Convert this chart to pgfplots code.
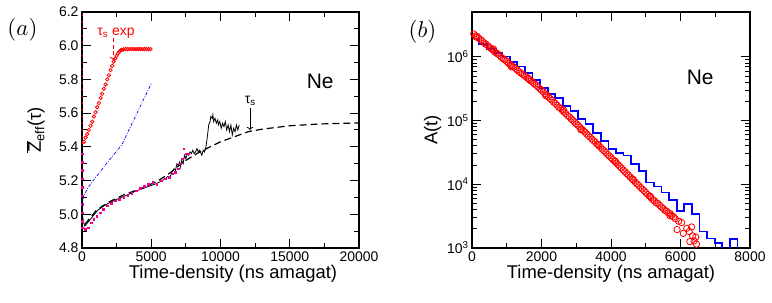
\documentclass[border=0pt]{standalone}
\usepackage{fontspec}
\setmainfont{Liberation Sans}
\usepackage{pgfplots}
\pgfplotsset{compat=1.18}
\usetikzlibrary{arrows.meta}
\begin{document}
\begin{tikzpicture}
\pgfplotsset{
  every axis/.append style={
    scale only axis, height=236bp,
    tick align=inside, major tick length=9bp, minor tick length=5bp,
    axis line style={line width=1.1bp},
    every tick/.style={line width=1bp, black},
    tick label style={font=\fontsize{14}{16}\selectfont},
    label style={font=\fontsize{18.5}{20}\selectfont},
    scaled ticks=false,
    /pgf/number format/assume math mode=true,
    /pgf/number format/1000 sep={},
    clip mode=individual,
  }
}
% ---------------- panel (a)
\begin{axis}[at={(0,0)}, anchor=south west, width=277bp,
  xmin=0, xmax=20000, ymin=4.8, ymax=6.2,
  xtick={0,5000,10000,15000,20000}, minor x tick num=1,
  xticklabels={0,5000,10000,15000,20000},
  ytick={4.8,5,5.2,5.4,5.6,5.8,6,6.2}, minor y tick num=1,
  yticklabels={4.8,5.0,5.2,5.4,5.6,5.8,6.0,6.2},
  xlabel={Time-density (ns amagat)},
  ylabel={$\overline{\hbox{Z}}$\textsubscript{eff}(τ)},
  xlabel style={at={(axis description cs:0.545,-0.13)}, anchor=base},
  ylabel style={at={(axis description cs:-0.168,0.5)}, anchor=center},
]
% dashed fit
\addplot[black, line width=1.2bp, dash pattern=on 7bp off 4bp] coordinates {
(200,4.94)(400,4.96)(700,4.99)(1000,5.02)(1500,5.05)(2000,5.075)(2500,5.095)
(3000,5.115)(3500,5.13)(4000,5.145)(4500,5.16)(5000,5.18)(5500,5.20)(6000,5.225)
(6500,5.255)(7000,5.29)(7500,5.32)(8000,5.345)(8500,5.37)(9000,5.39)(9500,5.41)
(10000,5.43)(10500,5.445)(11000,5.46)(11500,5.475)(12000,5.49)(13000,5.505)
(14000,5.515)(15000,5.525)(16000,5.53)(17000,5.535)(18000,5.538)(19000,5.54)(20000,5.542)};
% black noisy
\addplot[black, line width=0.8bp] coordinates {
(0,5.02)(60,4.98)(120,4.95)(200,4.93)(300,4.94)(450,4.955)(650,4.975)(900,5.00)
(1150,5.025)(1500,5.045)(1900,5.065)(2400,5.085)(2850,5.10)(3300,5.115)(3800,5.135)
(4300,5.15)(4800,5.165)(5300,5.18)(5700,5.195)(6000,5.21)(6200,5.225)(6350,5.22)
(6500,5.25)(6650,5.27)(6750,5.26)(6850,5.30)(6950,5.29)(7050,5.31)(7100,5.28)
(7200,5.32)(7300,5.30)(7400,5.35)(7500,5.33)(7600,5.36)(7700,5.35)(7800,5.37)
(7900,5.36)(8000,5.38)(8100,5.36)(8200,5.37)(8300,5.39)(8400,5.37)(8500,5.38)
(8600,5.36)(8650,5.35)(8750,5.38)(8850,5.37)(8950,5.40)(9050,5.46)(9150,5.53)
(9250,5.55)(9300,5.58)(9400,5.57)(9450,5.59)(9500,5.55)(9600,5.57)(9700,5.54)
(9800,5.56)(9850,5.53)(9950,5.55)(10050,5.51)(10150,5.54)(10250,5.52)(10350,5.55)
(10450,5.50)(10550,5.53)(10650,5.49)(10750,5.53)(10850,5.47)(10950,5.51)(11050,5.49)
(11150,5.53)(11250,5.50)(11350,5.53)};
% magenta
\addplot[only marks, mark=square*, mark size=0.8bp, color=magenta] coordinates {
(25,5.36)(25,5.31)(25,5.26)(25,5.21)(25,5.16)(25,5.11)(25,5.06)(25,5.01)(25,4.96)(25,4.92)
(250,4.91)(450,4.92)(650,4.95)(850,4.97)(1050,4.99)(1300,5.01)(1550,5.03)(1800,5.05)
(2100,5.065)(2400,5.08)(2700,5.09)(3000,5.10)(3300,5.115)(3600,5.125)(3900,5.14)
(4200,5.155)(4500,5.165)(4800,5.18)(5100,5.19)(5400,5.18)(5700,5.20)(6000,5.21)
(6300,5.22)(6550,5.24)(6750,5.25)(6950,5.27)(7100,5.30)(7250,5.33)(7350,5.39)
(7500,5.36)(7650,5.36)};
% blue dash-dot
\addplot[blue, line width=0.7bp, dash pattern=on 3bp off 1.5bp on 0.8bp off 1.5bp] coordinates {
(30,5.05)(100,5.10)(250,5.13)(450,5.16)(800,5.20)(1300,5.25)(1800,5.305)(2300,5.355)
(2866,5.41)(3500,5.52)(4000,5.605)(4500,5.69)(5000,5.775)};
% red dots at very short times
\addplot[only marks, mark=*, mark size=0.5bp, red] coordinates {
(20,5.42)(20,5.46)(20,5.50)(20,5.54)(20,5.58)(20,5.62)(20,5.66)(20,5.70)(20,5.74)
(20,5.78)(20,5.82)(20,5.86)(20,5.90)(20,5.94)(20,5.98)(20,6.02)(20,6.06)(20,6.10)
(20,6.14)(20,6.18)};
% red circles (exp)
\addplot[only marks, mark=o, mark size=1.7bp, red, mark options={line width=0.8bp}] coordinates {
(140,5.43)(260,5.455)(380,5.475)(500,5.50)(620,5.525)(740,5.55)(860,5.58)(980,5.605)
(1100,5.635)(1220,5.66)(1340,5.69)(1460,5.715)(1580,5.745)(1700,5.77)(1820,5.80)
(1940,5.825)(2060,5.855)(2180,5.88)(2280,5.905)(2400,5.925)(2500,5.94)(2600,5.955)
(2700,5.965)(2800,5.972)(2900,5.976)(3000,5.978)(3150,5.98)(3300,5.98)(3450,5.98)
(3600,5.98)(3750,5.98)(3900,5.98)(4050,5.98)(4200,5.98)(4350,5.98)(4500,5.98)
(4650,5.98)(4800,5.98)(4950,5.98)};
% annotations
\node[red, font=\fontsize{14}{16}\selectfont, anchor=base] at (axis cs:2450,6.063) {τ\textsubscript{s} exp};
\draw[red, line width=0.8bp, dash pattern=on 4bp off 2.5bp, -{To[length=3bp]}] (axis cs:2240,6.045) -- (axis cs:2240,5.915);
\node[black, font=\fontsize{14}{16}\selectfont, anchor=base] at (axis cs:12150,5.66) {τ\textsubscript{s}};
\draw[black, line width=0.8bp, -{To[length=3bp]}] (axis cs:12130,5.63) -- (axis cs:12130,5.50);
\node[font=\fontsize{21}{24}\selectfont] at (axis cs:17200,5.787) {Ne};
\node at (rel axis cs:-0.215,0.924) {\scalebox{2.3}{$(a)$}};
\end{axis}
% ---------------- panel (b)
\begin{axis}[at={(390bp,0)}, anchor=south west, width=278bp,
  xmin=0, xmax=8000, ymode=log, ymin=1000, ymax=5.07e6,
  xtick={0,2000,4000,6000,8000}, minor x tick num=1,
  ytick={1000,10000,100000,1000000},
  yticklabels={10\textsuperscript{3},10\textsuperscript{4},10\textsuperscript{5},10\textsuperscript{6}},
  xlabel={Time-density (ns amagat)},
  ylabel={A(t)},
  xlabel style={at={(axis description cs:0.5,-0.13)}, anchor=base},
  ylabel style={at={(axis description cs:-0.142,0.5)}, anchor=center},
]
\addplot[blue, line width=1.7bp, const plot] coordinates {
(150,1.95e6)(210,1.585e6)(429,1.32e6)(647,1.15e6)(866,1.02e6)(1084,8.32e5)(1303,7.08e5)
(1521,5.62e5)(1740,4.37e5)(1958,3.24e5)(2177,2.63e5)(2395,2.29e5)(2614,1.70e5)
(2832,1.41e5)(3051,1.05e5)(3269,8.91e4)(3488,6.31e4)(3706,4.84e4)(3925,3.55e4)
(4143,3.09e4)(4362,2.82e4)(4580,2.09e4)(4799,1.62e4)(5017,1.07e4)(5236,9.23e3)
(5454,7.41e3)(5673,5.62e3)(5891,3.80e3)(6110,4.90e3)(6328,3.39e3)(6547,1.82e3)
(6765,1.41e3)(6984,1.19e3)(7202,316)(7421,1.38e3)(7639,316)(7700,316)};
\addplot[only marks, mark=o, mark size=3.2bp, red, mark options={line width=0.8bp}] coordinates {
(50,2.29e6)(100,2.14e6)(150,2.09e6)(200,1.95e6)(250,1.86e6)(300,1.76e6)(350,1.66e6)
(400,1.58e6)(450,1.51e6)(500,1.41e6)(550,1.35e6)(600,1.29e6)(650,1.20e6)(700,1.15e6)
(750,1.10e6)(800,1.05e6)(850,9.77e5)(900,9.33e5)(950,8.91e5)(1000,8.51e5)(1050,7.94e5)
(1100,7.59e5)(1150,7.24e5)(1200,6.92e5)(1250,6.61e5)(1300,6.24e5)(1350,5.89e5)
(1400,5.62e5)(1450,5.37e5)(1500,5.13e5)(1550,4.90e5)(1600,4.62e5)(1650,4.37e5)
(1700,4.17e5)(1750,3.98e5)(1800,3.76e5)(1850,3.59e5)(1900,3.39e5)(1950,3.16e5)
(2000,3.02e5)(2050,2.82e5)(2100,2.63e5)(2150,2.51e5)(2200,2.34e5)(2250,2.21e5)
(2300,2.09e5)(2350,1.95e5)(2400,1.86e5)(2450,1.74e5)(2500,1.62e5)(2550,1.55e5)
(2600,1.45e5)(2650,1.36e5)(2700,1.29e5)(2750,1.20e5)(2800,1.15e5)(2850,1.07e5)
(2900,1.01e5)(2950,9.55e4)(3000,8.91e4)(3050,8.41e4)(3100,7.94e4)(3150,7.41e4)
(3200,7.00e4)(3250,6.61e4)(3300,6.17e4)(3350,5.82e4)(3400,5.50e4)(3450,5.13e4)
(3500,4.84e4)(3550,4.57e4)(3600,4.27e4)(3650,4.03e4)(3700,3.80e4)(3750,3.55e4)
(3800,3.35e4)(3850,3.16e4)(3900,2.95e4)(3950,2.79e4)(4000,2.63e4)(4050,2.45e4)
(4100,2.32e4)(4150,2.16e4)(4200,2.04e4)(4250,1.91e4)(4300,1.80e4)(4350,1.68e4)
(4400,1.58e4)(4450,1.48e4)(4500,1.40e4)(4550,1.30e4)(4600,1.23e4)(4650,1.15e4)
(4700,1.08e4)(4750,1.01e4)(4800,9.55e3)(4850,8.91e3)(4900,8.41e3)(4950,7.94e3)
(5000,7.41e3)(5050,6.92e3)(5100,6.53e3)(5150,6.17e3)(5200,5.75e3)(5250,5.50e3)
(5300,5.13e3)(5400,4.68e3)(5450,4.37e3)(5500,4.17e3)(5600,3.80e3)(5650,3.55e3)
(5700,3.47e3)(5750,3.24e3)(5800,3.09e3)(5850,2.88e3)(5900,1.95e3)(5950,2.63e3)
(6030,2.51e3)(6080,1.70e3)(6180,2.04e3)(6250,1.82e3)(6270,1.26e3)(6320,2.14e3)
(6350,1.55e3)(6390,1.29e3)(6440,1.48e3)(6460,1.15e3)
(120,2.05e6)(620,1.33e6)(1130,7.0e5)(1630,4.6e5)(2130,2.45e5)(2630,1.48e5)(3130,7.2e4)
(3630,4.2e4)(4130,2.3e4)(4630,1.2e4)(5130,6.5e3)(5350,5.0e3)(5550,3.9e3)(5700,3.2e3)};
\node[font=\fontsize{21}{24}\selectfont] at (axis cs:6567,4.8e5) {Ne};
\node at (rel axis cs:-0.178,0.917) {\scalebox{2.3}{$(b)$}};
\end{axis}
\pgfresetboundingbox
\useasboundingbox (-82bp,-55bp) rectangle (690bp,248bp);
\end{tikzpicture}
\end{document}
